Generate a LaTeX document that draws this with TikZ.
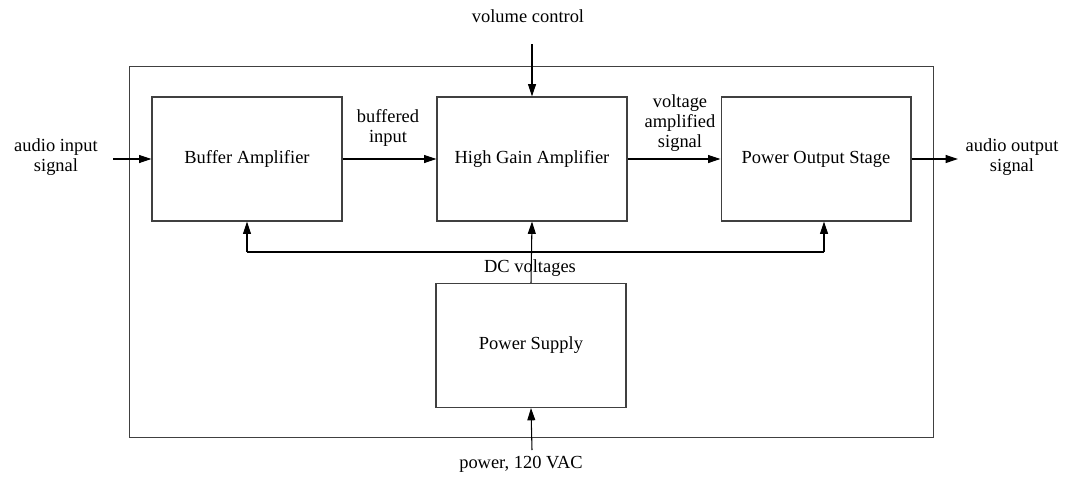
\documentclass[tikz,border=0pt]{standalone}
\usepackage{fontspec}
\setmainfont{Liberation Serif}
\usetikzlibrary{arrows.meta}

\begin{document}
\begin{tikzpicture}[x=0.02cm,y=-0.02cm,font=\fontsize{10.5}{11.6}\selectfont,
        >={Triangle[length=7pt,width=4.5pt]},
        block/.style={rectangle,draw=black!75,line width=0.6pt,
                      minimum width=3.8cm,minimum height=2.48cm,align=center},
        lbl/.style={align=center,inner sep=0pt},
        sig/.style={->,line width=0.6pt}]
      \useasboundingbox (0,0) rectangle (1078,480);
      % enclosure
      \node[rectangle,draw=black!75,line width=0.6pt,minimum width=16.1cm,
            minimum height=7.44cm](amp) at(531.5,252){};
      \node[block](buf) at(247,159){Buffer Amplifier};
      \node[block](hga) at(532,159){High Gain Amplifier};
      \node[block](pos) at(816,159){Power Output Stage};
      \node[block](psu) at(531,345.5){Power Supply};
      % outside signals
      \node[lbl](in)  at(56,157){audio input\\signal};
      \node[lbl](out) at(1012,157){audio output\\signal};
      \node[lbl](vol) at(528,16){volume control};
      \node[lbl](pwr) at(521,464){power, 120 VAC};
      \coordinate (inA) at(113,159);
      \coordinate (outA) at(958,159);
      \coordinate (volA) at(532,44);
      \coordinate (pwrA) at(532,450);
      \draw[sig](inA)--(buf.west);
      \draw[sig](pos.east)--(outA);
      \draw[sig](volA)--(hga.north);
      \draw[sig](pwrA)--(psu.south);
      % signal path
      \draw[sig](buf.east)--(hga.west);
      \draw[sig](hga.east)--(pos.west);
      \node[lbl] at(388,128){buffered\\input};
      \node[lbl] at(680,123){voltage\\amplified\\signal};
      % DC supply bus
      \coordinate (busL) at(247,252);
      \coordinate (busR) at(824,252);
      \draw[line width=0.6pt](busL)--(busR);
      \draw[sig](busL)--(buf.south);
      \draw[sig](busR)--(pos.south-|busR);
      \draw[sig](psu.north)--(hga.south);
      \node[lbl] at(530,268){DC voltages};
    \end{tikzpicture}
\end{document}
